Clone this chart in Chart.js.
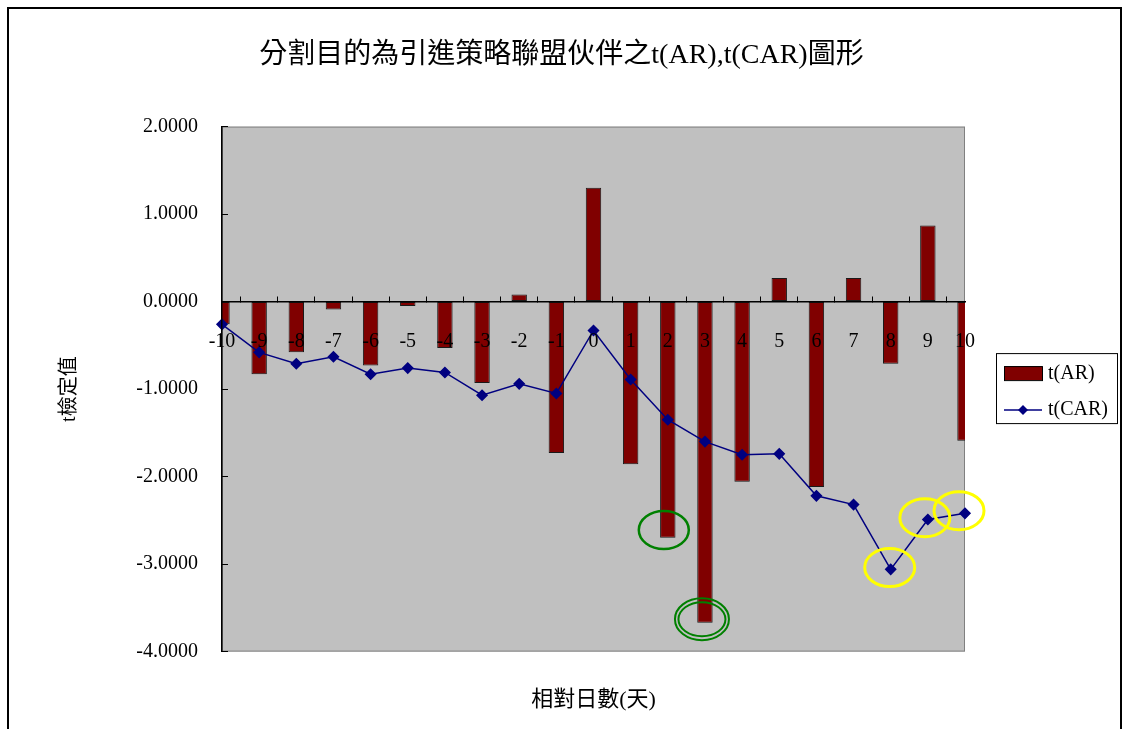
<!DOCTYPE html>
<html>
<head>
<meta charset="utf-8">
<script src="https://cdn.jsdelivr.net/npm/chart.js@4.4.1/dist/chart.umd.min.js"></script>
<style>
    html, body { margin: 0; padding: 0; background: #ffffff; }
    #wrap { width: 1123px; height: 729px; }
</style>
</head>
<body>
<div id="wrap"><canvas id="chartT"></canvas></div>
<script>
var dias = ['-10', '-9', '-8', '-7', '-6', '-5', '-4', '-3', '-2', '-1', '0',
            '1', '2', '3', '4', '5', '6', '7', '8', '9', '10'];
var tAR = [-0.26, -0.83, -0.58, -0.09, -0.73, -0.05, -0.53, -0.93, 0.08, -1.73, 1.30,
           -1.86, -2.70, -3.67, -2.06, 0.27, -2.12, 0.27, -0.71, 0.87, -1.59];
var tCAR = [-0.26, -0.58, -0.71, -0.63, -0.83, -0.76, -0.81, -1.07, -0.94, -1.05, -0.33,
            -0.89, -1.35, -1.60, -1.75, -1.74, -2.22, -2.32, -3.06, -2.49, -2.42];
var yMin = -4, yMax = 2, yStep = 1;

// circulos marcados a mao no grafico original
var destaques = [
    { dia: '2', valor: -2.61, cor: '#008000', rx: [25], ry: [19], dx: -4, lw: 2.5 },
    { dia: '3', valor: -3.63, cor: '#008000', rx: [27, 23.5], ry: [21, 17], dx: -3, lw: 2 },
    { dia: '8', valor: -3.04, cor: '#FFFF00', rx: [25], ry: [19], dx: -1, lw: 3 },
    { dia: '9', valor: -2.47, cor: '#FFFF00', rx: [25], ry: [19], dx: -3, lw: 3 },
    { dia: '10', valor: -2.39, cor: '#FFFF00', rx: [25], ry: [19], dx: -6, lw: 3 }
];

var serif = '"Liberation Serif", "Noto Sans CJK TC", serif';

var fundo = {
    id: 'fundo',
    beforeDraw: function (chart) {
        var ctx = chart.ctx, a = chart.chartArea;
        ctx.save();
        ctx.fillStyle = '#ffffff';
        ctx.fillRect(0, 0, chart.width, chart.height);
        // moldura externa
        ctx.strokeStyle = '#000000';
        ctx.lineWidth = 2;
        ctx.beginPath();
        ctx.moveTo(8, chart.height);
        ctx.lineTo(8, 8);
        ctx.lineTo(chart.width - 2, 8);
        ctx.lineTo(chart.width - 2, chart.height);
        ctx.stroke();
        // area do grafico
        ctx.fillStyle = '#C0C0C0';
        ctx.fillRect(a.left, a.top, a.right - a.left, a.bottom - a.top);
        ctx.strokeStyle = '#808080';
        ctx.lineWidth = 1;
        ctx.strokeRect(a.left + 0.5, a.top + 0.5, a.right - a.left - 1, a.bottom - a.top - 1);
        ctx.restore();
    },
    afterDraw: function (chart) {
        var ctx = chart.ctx, a = chart.chartArea;
        var sx = chart.scales.x, sy = chart.scales.y;
        ctx.save();
        // destaques
        destaques.forEach(function (d) {
            var cx = sx.getPixelForValue(dias.indexOf(d.dia)) + d.dx;
            var cy = sy.getPixelForValue(d.valor);
            ctx.strokeStyle = d.cor;
            ctx.lineWidth = d.lw;
            for (var i = 0; i < d.rx.length; i++) {
                ctx.beginPath();
                ctx.ellipse(cx, cy, d.rx[i], d.ry[i], 0, 0, Math.PI * 2);
                ctx.stroke();
            }
        });
        // legenda
        var ds = chart.data.datasets;
        var barra = ds.filter(function (d) { return d.type !== 'line'; })[0];
        var linha = ds.filter(function (d) { return d.type === 'line'; })[0];
        var lx = a.right + 31, ly = (a.top + a.bottom) / 2 - 36;
        ctx.fillStyle = '#ffffff';
        ctx.fillRect(lx, ly, 121, 70);
        ctx.strokeStyle = '#000000';
        ctx.lineWidth = 1;
        ctx.strokeRect(lx + 0.5, ly + 0.5, 121, 70);
        ctx.fillStyle = barra.backgroundColor;
        ctx.fillRect(lx + 8, ly + 13, 38, 14);
        ctx.strokeRect(lx + 8.5, ly + 13.5, 38, 14);
        ctx.strokeStyle = linha.borderColor;
        ctx.lineWidth = 1.5;
        ctx.beginPath();
        ctx.moveTo(lx + 8, ly + 57);
        ctx.lineTo(lx + 46, ly + 57);
        ctx.stroke();
        ctx.fillStyle = linha.borderColor;
        ctx.beginPath();
        ctx.moveTo(lx + 27, ly + 52);
        ctx.lineTo(lx + 32, ly + 57);
        ctx.lineTo(lx + 27, ly + 62);
        ctx.lineTo(lx + 22, ly + 57);
        ctx.closePath();
        ctx.fill();
        ctx.fillStyle = '#000000';
        ctx.font = '20px ' + serif;
        ctx.textBaseline = 'middle';
        ctx.textAlign = 'left';
        ctx.fillText(barra.label, lx + 52, ly + 21);
        ctx.fillText(linha.label, lx + 52, ly + 57);
        ctx.restore();
    }
};

new Chart(document.getElementById('chartT'), {
    type: 'bar',
    data: {
        labels: dias,
        datasets: [{
            type: 'line',
            label: 't(CAR)',
            data: tCAR,
            borderColor: '#000080',
            backgroundColor: '#000080',
            borderWidth: 1.5,
            pointStyle: 'rectRot',
            pointRadius: 5,
            pointBackgroundColor: '#000080',
            pointBorderColor: '#000080',
            tension: 0,
            clip: false,
            order: 0
        }, {
            label: 't(AR)',
            data: tAR,
            backgroundColor: '#800000',
            borderColor: '#1a1a1a',
            borderWidth: 1,
            borderSkipped: false,
            categoryPercentage: 1,
            barPercentage: 0.415,
            clip: 0,
            order: 1
        }]
    },
    options: {
        responsive: true,
        maintainAspectRatio: false,
        animation: false,
        layout: {
            padding: 0
        },
        plugins: {
            legend: { display: false },
            tooltip: { enabled: false },
            title: {
                display: true,
                text: '分割目的為引進策略聯盟伙伴之t(AR),t(CAR)圖形',
                color: '#000000',
                font: { family: serif, size: 28, weight: 'normal' },
                padding: { top: 39, bottom: 54 }
            },
            subtitle: {
                display: true,
                fullSize: false,
                position: 'bottom',
                text: '相對日數(天)',
                color: '#000000',
                font: { family: serif, size: 22, weight: 'normal' },
                padding: { top: 35, bottom: 16 }
            }
        },
        scales: {
            x: {
                position: { y: 0 },
                offset: false,
                grid: {
                    display: true,
                    drawOnChartArea: false,
                    drawTicks: true,
                    tickLength: -6,
                    color: '#000000',
                    z: 1
                },
                border: { color: '#000000', width: 1.5, z: 1 },
                ticks: {
                    color: '#000000',
                    font: { family: serif, size: 20 },
                    padding: 34,
                    autoSkip: false,
                    maxRotation: 0,
                    z: 1
                }
            },
            y: {
                min: yMin,
                max: yMax,
                afterFit: function (s) { s.width = 222; },
                grid: {
                    display: true,
                    drawOnChartArea: false,
                    drawTicks: true,
                    tickLength: -6,
                    color: '#000000',
                    z: 1
                },
                border: { color: '#000000', width: 1.5, z: 1 },
                ticks: {
                    stepSize: yStep,
                    color: '#000000',
                    font: { family: serif, size: 20 },
                    padding: 30,
                    callback: function (v) { return v.toFixed(4); }
                },
                title: {
                    display: true,
                    text: 't檢定值',
                    color: '#000000',
                    font: { family: serif, size: 20 },
                    padding: { top: 58, bottom: 0 }
                }
            },
            // espaco vazio a direita para a legenda
            yDir: {
                position: 'right',
                display: true,
                afterFit: function (s) { s.width = 158; },
                grid: { display: false },
                border: { display: false },
                ticks: { display: false }
            }
        }
    },
    plugins: [fundo]
});
</script>
</body>
</html>
